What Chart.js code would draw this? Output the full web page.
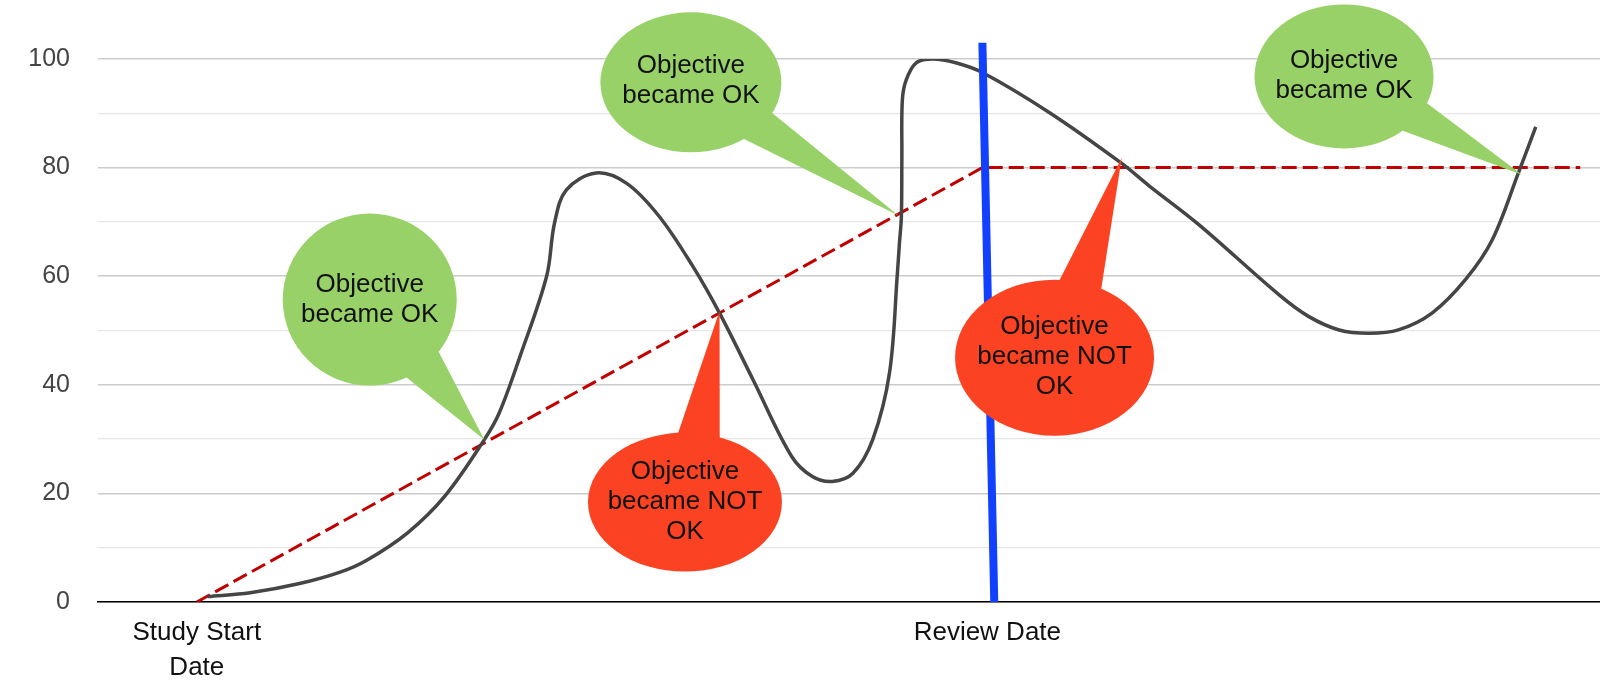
<!DOCTYPE html>
<html>
<head>
<meta charset="utf-8">
<script src="https://cdn.jsdelivr.net/npm/chart.js@4.4.1/dist/chart.umd.min.js"></script>
<style>
  html, body { margin: 0; padding: 0; background: #fff; }
  #wrap { width: 1600px; height: 692px; }
</style>
</head>
<body>
<div id="wrap"><canvas id="objectiveChart" width="1600" height="692"></canvas></div>
<script>
// progress curve (x = days, y = % of objective)
const progressX = [11.1, 15.4, 20.4, 24.5, 27.2, 31.3, 35.1, 39.1, 40.6, 42.7, 45.4, 46.2, 47.4, 50.4, 53.5, 56.8, 60.2, 62.9, 66.3, 70.2, 72.3, 74.3, 76.4, 78.4, 80.1, 80.9, 81.1, 81.3, 81.35, 81.4, 81.8, 82.8, 84.5, 86.8, 89.5, 96.3, 103.5, 106.4, 111.4, 119.5, 122.5, 125.6, 128.6, 131.6, 135.0, 138.4, 141.1, 143.8, 145.5];
const progressY = [1.0, 1.7, 3.4, 5.5, 7.7, 12.7, 19.5, 29.9, 34.8, 45.2, 60.0, 69.8, 75.9, 79.0, 77.1, 71.0, 61.8, 53.2, 40.9, 26.8, 23.1, 22.2, 23.7, 29.9, 42.2, 60.6, 66.0, 71.0, 82.0, 92.5, 96.2, 99.3, 100.0, 99.3, 97.5, 90.1, 80.9, 76.6, 69.5, 56.6, 52.6, 50.1, 49.5, 50.1, 53.2, 59.4, 66.7, 79.3, 87.5];

// objective target (dashed)
const targetX = [10, 89.5, 150];
const targetY = [0, 80, 80];

// review date marker
const reviewX = [89.5, 90.7];
const reviewY = [103, 0];

const xTickValues = [10, 90];
const xTickLabels = [['Study Start', 'Date'], 'Review Date'];

// callouts: where they point to
const calloutText = [
  ['Objective', 'became OK'],
  ['Objective', 'became NOT', 'OK'],
  ['Objective', 'became OK'],
  ['Objective', 'became NOT', 'OK'],
  ['Objective', 'became OK']
];
const calloutTipX = [39.1, 62.9, 81.0, 103.6, 144.1];
const calloutTipY = [29.9, 53.6, 71.2, 81.8, 78.7];

// callout shapes (centre in data units, radii in px, pointer base angles in degrees)
const GREEN = '#99d169';
const RED = '#fb4324';
const calloutShape = [
  { cx: 27.5, cy: 55.7, rx: 87, ry: 86, a1: 65, a2: 37.5, color: GREEN, dy: 0 },
  { cx: 59.4, cy: 18.4, rx: 97, ry: 69.5, a1: -94, a2: -69, color: RED, dy: 0 },
  { cx: 60.0, cy: 95.7, rx: 90.5, ry: 70, a1: 54, a2: 26, color: GREEN, dy: -2 },
  { cx: 96.8, cy: 45.0, rx: 99.5, ry: 78, a1: -87, a2: -62, color: RED, dy: -1 },
  { cx: 126.1, cy: 96.8, rx: 89.5, ry: 72, a1: 49, a2: 22, color: GREEN, dy: -1 }
];

const toPoints = (xs, ys) => xs.map((v, i) => ({ x: v, y: ys[i] }));

const calloutPlugin = {
  id: 'callouts',
  afterDatasetsDraw(chart) {
    const ctx = chart.ctx;
    const xs = chart.scales.x, ys = chart.scales.y;
    ctx.save();
    calloutShape.forEach((b, i) => {
      const cx = xs.getPixelForValue(b.cx);
      const cy = ys.getPixelForValue(b.cy);
      const tx = xs.getPixelForValue(calloutTipX[i]);
      const ty = ys.getPixelForValue(calloutTipY[i]);
      const a1 = b.a1 * Math.PI / 180, a2 = b.a2 * Math.PI / 180;
      ctx.fillStyle = b.color;
      ctx.beginPath();
      ctx.ellipse(cx, cy, b.rx, b.ry, 0, 0, Math.PI * 2);
      ctx.fill();
      ctx.beginPath();
      ctx.moveTo(cx, cy);
      ctx.lineTo(cx + b.rx * Math.cos(a1), cy + b.ry * Math.sin(a1));
      ctx.lineTo(tx, ty);
      ctx.lineTo(cx + b.rx * Math.cos(a2), cy + b.ry * Math.sin(a2));
      ctx.closePath();
      ctx.fill();

      const lines = calloutText[i];
      const lh = 30;
      ctx.fillStyle = '#111';
      ctx.font = '26px "Liberation Sans", Arial, sans-serif';
      ctx.textAlign = 'center';
      ctx.textBaseline = 'middle';
      lines.forEach((t, k) => {
        const off = (k - (lines.length - 1) / 2) * lh;
        ctx.fillText(t, cx, cy + b.dy + off);
      });
    });
    ctx.restore();
  }
};

new Chart(document.getElementById('objectiveChart'), {
  type: 'line',
  data: {
    datasets: [
      {
        label: 'Progress',
        data: toPoints(progressX, progressY),
        borderColor: '#454545',
        borderWidth: 3.5,
        pointRadius: 0,
        tension: 0.35,
        fill: false,
        order: 2
      },
      {
        label: 'Objective',
        data: toPoints(targetX, targetY),
        borderColor: '#c00000',
        borderWidth: 3,
        borderDash: [15, 6],
        pointRadius: 0,
        tension: 0,
        fill: false,
        order: 3
      },
      {
        label: 'Review',
        data: toPoints(reviewX, reviewY),
        borderColor: '#1140ff',
        borderWidth: 8,
        borderCapStyle: 'butt',
        pointRadius: 0,
        tension: 0,
        fill: false,
        clip: false,
        order: 1
      }
    ]
  },
  options: {
    responsive: false,
    animation: false,
    devicePixelRatio: 1,
    layout: { padding: { top: 59, right: 0, left: 0, bottom: 0 } },
    plugins: {
      legend: { display: false },
      tooltip: { enabled: false }
    },
    scales: {
      x: {
        type: 'linear',
        min: 0,
        max: 152,
        grid: { display: true, drawOnChartArea: false, drawTicks: false },
        border: { display: true, color: '#000', width: 1.5 },
        afterBuildTicks: (scale) => {
          scale.ticks = xTickValues.map(v => ({ value: v }));
        },
        afterFit: (scale) => { scale.height = 90; },
        ticks: {
          autoSkip: false,
          maxRotation: 0,
          padding: 13,
          color: '#111',
          font: { family: '"Liberation Sans", Arial, sans-serif', size: 26, lineHeight: 1.35 },
          callback: (v) => {
            const i = xTickValues.indexOf(v);
            return i >= 0 ? xTickLabels[i] : '';
          }
        }
      },
      y: {
        type: 'linear',
        min: 0,
        max: 100,
        border: { display: false },
        grid: {
          drawTicks: false,
          color: (c) => (c.tick && c.tick.value % 20 === 0) ? '#cccccc' : '#e6e6e6',
          lineWidth: (c) => (c.tick && c.tick.value % 20 === 0) ? 1.5 : 1.2
        },
        afterFit: (scale) => { scale.width = 98; },
        ticks: {
          stepSize: 10,
          padding: 28,
          color: '#444',
          font: { family: '"Liberation Sans", Arial, sans-serif', size: 25 },
          callback: (v) => (v % 20 === 0 ? v : '')
        }
      }
    }
  },
  plugins: [calloutPlugin]
});
</script>
</body>
</html>
